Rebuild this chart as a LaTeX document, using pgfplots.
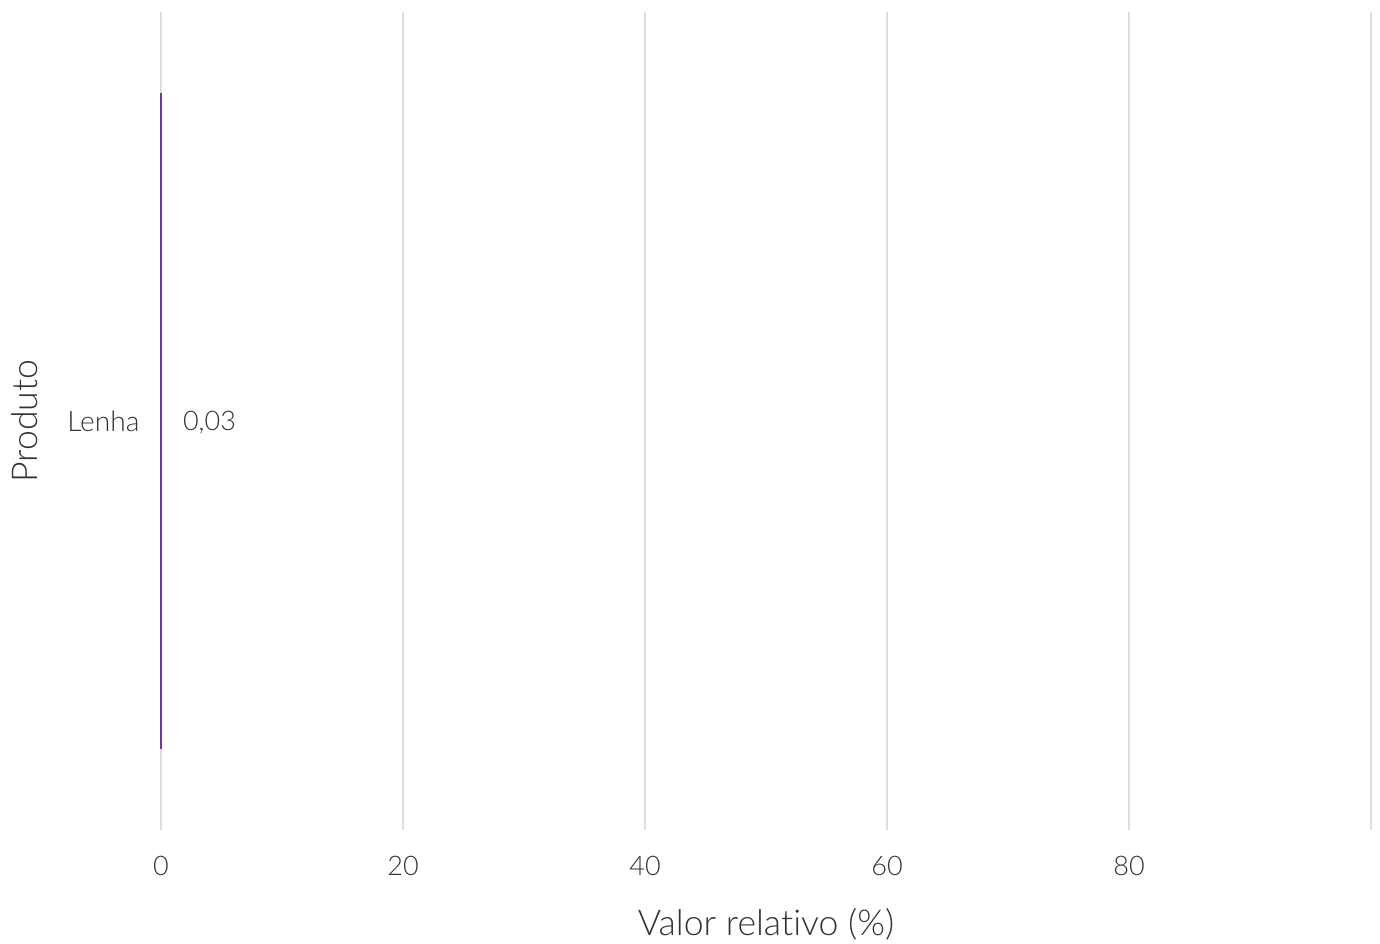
\documentclass[border=0pt]{standalone}
\usepackage{fontspec}
\IfFontExistsTF{Lato Light}{\setmainfont[Ligatures=NoCommon]{Lato Light}}{\setmainfont[Ligatures=NoCommon]{Lato}}
\usepackage{pgfplots}
\pgfplotsset{compat=1.18}
\usepackage{pgfplotstable}
\definecolor{barc}{HTML}{6F35A5}
\definecolor{gridc}{HTML}{DCDCDC}
\definecolor{zeroc}{HTML}{C4C4C4}
\definecolor{txt}{HTML}{333333}
\pgfplotstableread{
y val label
1 0.03 {0,03}
}\datatab
\begin{document}
\begin{tikzpicture}
\path[use as bounding box] (0,0) rectangle (690pt,471.5pt);
\begin{axis}[
  at={(80.5pt,56.5pt)}, anchor=south west,
  scale only axis, width=605pt, height=409pt,
  xbar, bar width=0.8,
  xmin=0, xmax=100, ymin=0.5, ymax=1.5,
  axis line style={draw=none},
  xtick={20,40,60,80,100},
  xticklabels={20,40,60,80,{}},
  extra x ticks={0},
  extra x tick labels={0},
  extra x tick style={grid style={zeroc, line width=1pt}},
  ytick={1}, yticklabels={Lenha},
  major tick length=0pt,
  xmajorgrids, major grid style={gridc, line width=1pt},
  xticklabel style={anchor=center, yshift=-18pt, font=\fontsize{13.5}{16}\selectfont, text=txt},
  yticklabel style={anchor=east, inner sep=0pt, xshift=-10.5pt, font=\fontsize{14.1}{17}\selectfont, text=txt},
  xlabel={Valor relativo (\%)},
  ylabel={Produto},
  xlabel style={at={(axis description cs:0.5,-0.1149)}, anchor=center, font=\fontsize{17.8}{21}\selectfont, text=txt},
  ylabel style={at={(axis description cs:-0.1124,0.5)}, anchor=center, font=\fontsize{17.8}{21}\selectfont, text=txt},
  point meta=explicit symbolic,
  nodes near coords,
  nodes near coords style={anchor=west, inner sep=0pt, xshift=10.5pt, yshift=-1pt, font=\fontsize{13.5}{16}\selectfont, text=txt},
  clip=false,
]
\addplot[fill=barc, draw=barc, line width=0.7pt] table[x=val, y=y, meta=label] {\datatab};
\end{axis}
\end{tikzpicture}
\end{document}
